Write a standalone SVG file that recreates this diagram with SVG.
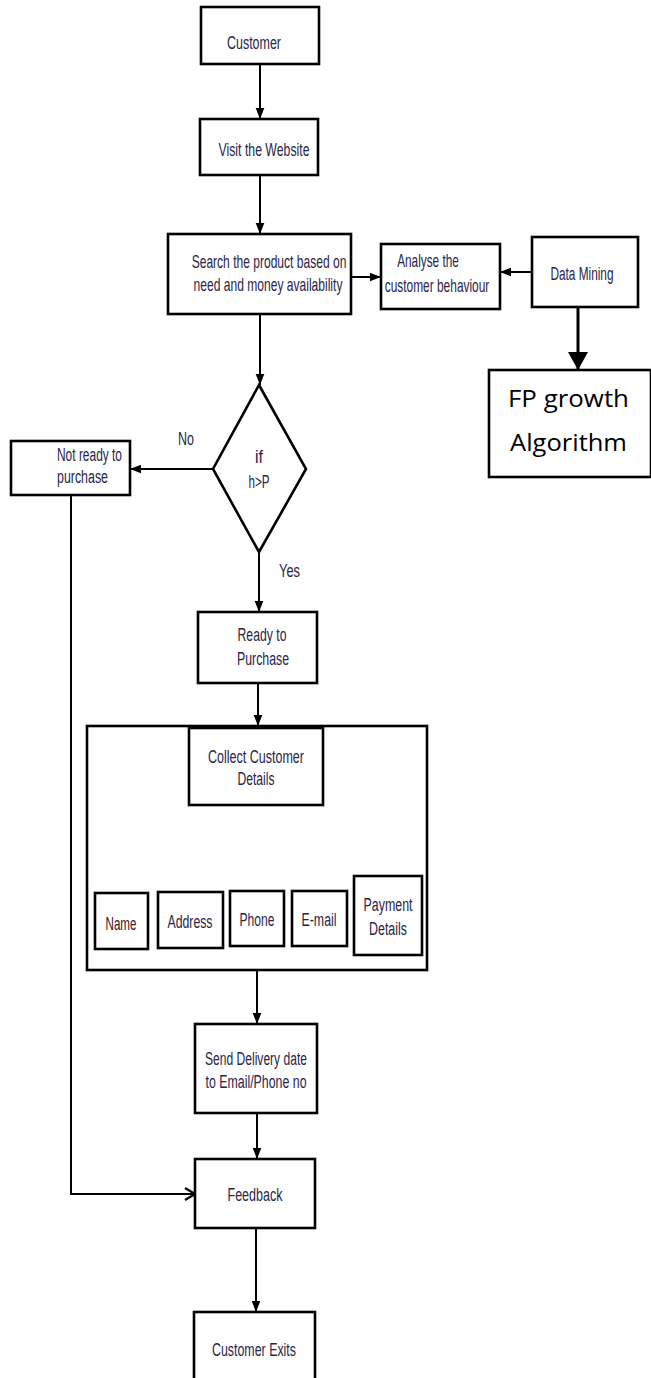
<svg xmlns="http://www.w3.org/2000/svg" width="651" height="1378" viewBox="0 0 651 1378">
<style>
.box{fill:#fff;stroke:#000;stroke-width:2.6}
.ln{fill:none;stroke:#000;stroke-width:2}
.t{font-family:"Liberation Sans",Arial,sans-serif;font-size:18px;fill:#2a2448;text-anchor:middle}
.tl{font-family:"Liberation Sans",Arial,sans-serif;font-size:18px;fill:#2a2448}
.big{font-family:"Open Sans","Noto Sans",sans-serif;font-size:23px;fill:#000}
</style>
<defs>
<marker id="ah" markerWidth="11" markerHeight="14" refX="14" refY="5.5" orient="auto" markerUnits="userSpaceOnUse" viewBox="0 0 14 11">
<path d="M0,0 L14,5.5 L0,11 Z" fill="#000"/>
</marker>
<marker id="ahb" markerWidth="18" markerHeight="20" refX="18" refY="10" orient="auto" markerUnits="userSpaceOnUse">
<path d="M0,0 L18,10 L0,20 Z" fill="#000"/>
</marker>
<marker id="chev" markerWidth="12" markerHeight="14" refX="11" refY="7" orient="auto" markerUnits="userSpaceOnUse">
<path d="M1,1 L11,7 L1,13" fill="none" stroke="#000" stroke-width="2.2"/>
</marker>
</defs>

<g id="connectors">
<line class="ln" x1="260" y1="64" x2="260" y2="119" marker-end="url(#ah)"/>
<line class="ln" x1="260" y1="175" x2="260" y2="234" marker-end="url(#ah)"/>
<line class="ln" x1="351" y1="277" x2="381" y2="277" marker-end="url(#ah)"/>
<line class="ln" x1="532" y1="272" x2="500" y2="272" marker-end="url(#ah)"/>
<line x1="578" y1="307" x2="578" y2="370" stroke="#000" stroke-width="3" marker-end="url(#ahb)"/>
<line class="ln" x1="260" y1="314" x2="260" y2="385" marker-end="url(#ah)"/>
<line class="ln" x1="213" y1="469" x2="130" y2="469" marker-end="url(#ah)"/>
<line class="ln" x1="259" y1="552" x2="259" y2="612" marker-end="url(#ah)"/>
<line class="ln" x1="258" y1="683" x2="258" y2="726" marker-end="url(#ah)"/>
<line class="ln" x1="257" y1="970" x2="257" y2="1024" marker-end="url(#ah)"/>
<line class="ln" x1="257" y1="1113" x2="257" y2="1159" marker-end="url(#ah)"/>
<line class="ln" x1="256" y1="1228" x2="256" y2="1312" marker-end="url(#ah)"/>
<polyline class="ln" points="71,495 71,1194 195,1194" marker-end="url(#chev)"/>
<text class="tl" x="178" y="445" textLength="16" lengthAdjust="spacingAndGlyphs">No</text>
<text class="tl" x="279" y="577" textLength="21" lengthAdjust="spacingAndGlyphs">Yes</text>
</g>

<g id="customer">
<rect class="box" x="201" y="7" width="118" height="57"/>
<text class="t" x="254" y="49" textLength="54" lengthAdjust="spacingAndGlyphs">Customer</text>
</g>

<g id="visit">
<rect class="box" x="200" y="119" width="118" height="56"/>
<text class="t" x="264" y="156" textLength="91" lengthAdjust="spacingAndGlyphs">Visit the Website</text>
</g>

<g id="search">
<rect class="box" x="168" y="234" width="183" height="80"/>
<text class="t" transform="translate(269,268) scale(0.65,1)" x="0" y="0" textLength="238" lengthAdjust="spacingAndGlyphs">Search the product based on</text>
<text class="t" transform="translate(268,291) scale(0.65,1)" x="0" y="0" textLength="229" lengthAdjust="spacingAndGlyphs">need and money availability</text>
</g>

<g id="analyse">
<rect class="box" x="381" y="244" width="119" height="65"/>
<text class="t" transform="translate(428,267) scale(0.65,1)" x="0" y="0" textLength="95" lengthAdjust="spacingAndGlyphs">Analyse the</text>
<text class="t" transform="translate(437,292) scale(0.65,1)" x="0" y="0" textLength="161" lengthAdjust="spacingAndGlyphs">customer behaviour</text>
</g>

<g id="datamining">
<rect class="box" x="532" y="237" width="106" height="70"/>
<text class="t" x="582" y="280" textLength="63" lengthAdjust="spacingAndGlyphs">Data Mining</text>
</g>

<g id="fpgrowth">
<rect class="box" x="489" y="370" width="162" height="107"/>
<text class="big" x="508" y="407" textLength="121" lengthAdjust="spacingAndGlyphs">FP growth</text>
<text class="big" x="510" y="451" textLength="117" lengthAdjust="spacingAndGlyphs">Algorithm</text>
</g>

<g id="decision">
<polygon class="box" points="259,385 306,469 259,552 213,469"/>
<text class="t" x="259" y="463" textLength="8" lengthAdjust="spacingAndGlyphs">if</text>
<text class="t" x="259" y="488" textLength="21" lengthAdjust="spacingAndGlyphs">h&gt;P</text>
</g>

<g id="notready">
<rect class="box" x="11" y="441" width="119" height="54"/>
<text class="tl" x="57" y="461" textLength="65" lengthAdjust="spacingAndGlyphs">Not ready to</text>
<text class="tl" x="57" y="483" textLength="51" lengthAdjust="spacingAndGlyphs">purchase</text>
</g>

<g id="ready">
<rect class="box" x="198" y="612" width="119" height="71"/>
<text class="t" x="262" y="641" textLength="49" lengthAdjust="spacingAndGlyphs">Ready to</text>
<text class="t" x="263" y="665" textLength="52" lengthAdjust="spacingAndGlyphs">Purchase</text>
</g>

<g id="details-container">
<rect class="box" x="87" y="726" width="340" height="244"/>
</g>

<g id="collect">
<rect class="box" x="189" y="728" width="134" height="77"/>
<text class="t" x="256" y="763" textLength="96" lengthAdjust="spacingAndGlyphs">Collect Customer</text>
<text class="t" x="256" y="785" textLength="37" lengthAdjust="spacingAndGlyphs">Details</text>
</g>

<g id="name">
<rect class="box" x="95" y="893" width="53" height="56"/>
<text class="t" x="121" y="930" textLength="31" lengthAdjust="spacingAndGlyphs" style="fill:#4a1020">Name</text>
</g>

<g id="address">
<rect class="box" x="158" y="892" width="65" height="56"/>
<text class="t" x="190" y="928" textLength="45" lengthAdjust="spacingAndGlyphs">Address</text>
</g>

<g id="phone">
<rect class="box" x="230" y="891" width="54" height="55"/>
<text class="t" x="257" y="926" textLength="35" lengthAdjust="spacingAndGlyphs">Phone</text>
</g>

<g id="email">
<rect class="box" x="292" y="891" width="55" height="55"/>
<text class="t" x="319" y="926" textLength="35" lengthAdjust="spacingAndGlyphs">E-mail</text>
</g>

<g id="payment">
<rect class="box" x="354" y="876" width="68" height="79"/>
<text class="t" x="388" y="911" textLength="49" lengthAdjust="spacingAndGlyphs">Payment</text>
<text class="t" x="388" y="935" textLength="38" lengthAdjust="spacingAndGlyphs">Details</text>
</g>

<g id="send">
<rect class="box" x="195" y="1024" width="122" height="89"/>
<text class="t" x="256" y="1065" textLength="102" lengthAdjust="spacingAndGlyphs">Send Delivery date</text>
<text class="t" x="256" y="1088" textLength="101" lengthAdjust="spacingAndGlyphs">to Email/Phone no</text>
</g>

<g id="feedback">
<rect class="box" x="195" y="1159" width="120" height="69"/>
<text class="t" x="255" y="1201" textLength="55" lengthAdjust="spacingAndGlyphs">Feedback</text>
</g>

<g id="exits">
<rect class="box" x="194" y="1312" width="121" height="80"/>
<text class="t" x="254" y="1356" textLength="84" lengthAdjust="spacingAndGlyphs">Customer Exits</text>
</g>
</svg>
